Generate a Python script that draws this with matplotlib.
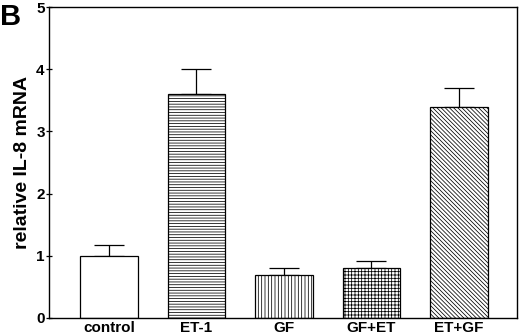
import numpy as np
import matplotlib.pyplot as plt

plt.rcParams['font.family'] = ['Liberation Sans', 'DejaVu Sans']
plt.rcParams['hatch.linewidth'] = 0.55

### Data
### ------------------------
groups = ["control", "ET-1", "GF", "GF+ET", "ET+GF"]
means = [1.0, 3.6, 0.69, 0.80, 3.40]
sems = [0.17, 0.40, 0.12, 0.11, 0.30]
hatches = ["", "------", "|||||", "+++++", "\\" * 8]

### Plotstuff
fig = plt.figure(figsize=(5.2, 3.36), dpi=100)
ax = fig.add_axes([0.094, 0.054, 0.9, 0.925])

x = np.arange(len(groups))
bars = ax.bar(x, means, width=0.66, color="white", edgecolor="black",
              linewidth=0.9, zorder=2)
for b, h in zip(bars, hatches):
    b.set_hatch(h)

ax.errorbar(x, means, yerr=[np.zeros(len(sems)), sems], fmt="none",
            ecolor="black", elinewidth=0.9, capsize=10.5, capthick=0.9,
            zorder=1)

ax.set_xlim(-0.686, 4.663)
ax.set_ylim(0, 5)
ax.set_yticks([0, 1, 2, 3, 4, 5])
ax.set_xticks(x)
ax.set_xticklabels(groups, fontsize=11, fontweight="bold")
for lab in ax.get_yticklabels():
    lab.set_fontsize(11)
    lab.set_fontweight("bold")
ax.tick_params(axis="x", length=0, pad=2)
ax.tick_params(axis="y", length=4, width=0.9, direction="inout", pad=1)
for s in ax.spines.values():
    s.set_linewidth(1.0)

ax.set_ylabel("relative IL-8 mRNA", fontsize=14, fontweight="bold",
              labelpad=4)
fig.text(0.0, 0.99, "B", fontsize=21, fontweight="bold",
         ha="left", va="top")

fig.savefig("out.png", dpi=100)
